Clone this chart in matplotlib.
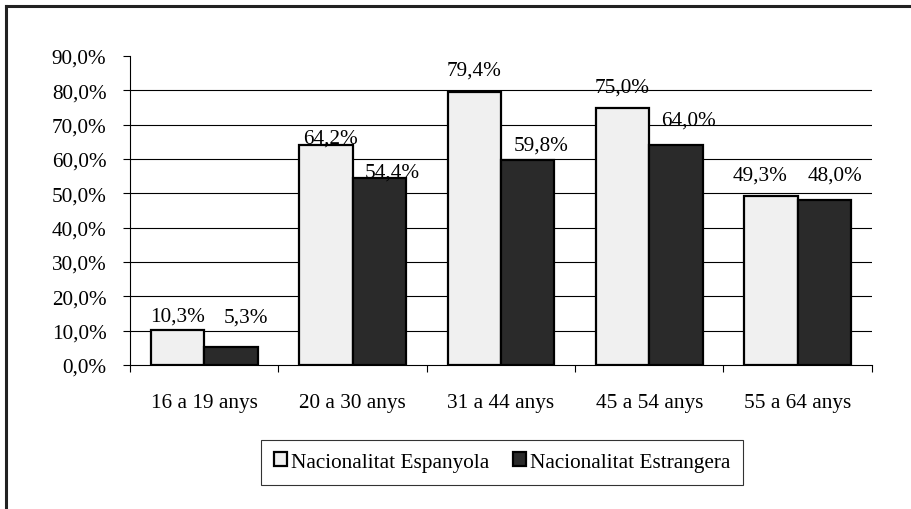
# bar chart: nacionalitat per grup d'edat

import matplotlib
matplotlib.use('Agg')
import matplotlib.pyplot as plt
import numpy as np
from matplotlib.lines import Line2D

grups = ['16 a 19 anys', '20 a 30 anys', '31 a 44 anys', '45 a 54 anys', '55 a 64 anys']
espanyola = [10.3, 64.2, 79.4, 75.0, 49.3]
estrangera = [5.3, 54.4, 59.8, 64.0, 48.0]
series_names = ['Nacionalitat Espanyola', 'Nacionalitat Estrangera']
yticks = [0, 10, 20, 30, 40, 50, 60, 70, 80, 90]

# label nudges (points), as placed by hand in the original
esp_dx = [0, 3, 0, 0, -8]
esp_dy = [6.5, 1.5, 13, 11.5, 12]
est_dx = [11, 9, 10, 9, 8]
est_dy = [18, 1.5, 7, 15, 15]

plt.rcParams['font.family'] = ['Liberation Serif', 'DejaVu Serif']
fs = 15.3

fig = plt.figure(figsize=(9.11, 5.10), dpi=100)
ax = fig.add_axes([0.1427, 0.2824, 0.8143, 0.6058])

x = np.arange(len(grups))
w = 0.36
b1 = ax.bar(x - w / 2, espanyola, w, color='#f0f0f0', edgecolor='black', linewidth=1.6,
            label=series_names[0], zorder=3)
b2 = ax.bar(x + w / 2, estrangera, w, color='#2a2a2a', edgecolor='black', linewidth=1.6,
            label=series_names[1], zorder=3)

def fmt(v):
    return f'{v:.1f}%'.replace('.', ',')

for rect, v, dx, dy in zip(b1, espanyola, esp_dx, esp_dy):
    ax.annotate(fmt(v), (rect.get_x() + rect.get_width() / 2, v), xytext=(dx, dy),
                textcoords='offset points', ha='center', va='baseline', fontsize=fs, zorder=4)
for rect, v, dx, dy in zip(b2, estrangera, est_dx, est_dy):
    ax.annotate(fmt(v), (rect.get_x() + rect.get_width() / 2, v), xytext=(dx, dy),
                textcoords='offset points', ha='center', va='baseline', fontsize=fs, zorder=4)

ax.set_xlim(-0.5, len(grups) - 0.5)
ax.set_ylim(0, 90)
ax.set_yticks(yticks)
ax.set_yticklabels([f'{t},0%' for t in yticks], fontsize=fs)
for t in yticks[1:-1]:
    ax.axhline(t, color='black', linewidth=0.8, zorder=1)

ax.set_xticks(x)
ax.set_xticklabels(grups, fontsize=fs)
ax.set_xticks(np.arange(len(grups) + 1) - 0.5, minor=True)
ax.tick_params(axis='x', which='major', length=0, pad=20)
ax.tick_params(axis='x', which='minor', length=5, width=0.8, direction='out')
ax.tick_params(axis='y', length=5, width=0.8, direction='out', pad=12)

for s in ['top', 'right']:
    ax.spines[s].set_visible(False)
for s in ['left', 'bottom']:
    ax.spines[s].set_linewidth(0.8)
    ax.spines[s].set_color('black')

leg = fig.legend(handles=[b1, b2], labels=series_names, loc='center',
                 bbox_to_anchor=(0.551, 0.092), ncol=2, fontsize=fs, frameon=True,
                 fancybox=False, edgecolor='black', handlelength=0.62, handleheight=0.62,
                 handletextpad=0.2, columnspacing=1.1, borderpad=0.6)
leg.get_frame().set_linewidth(0.8)

# outer frame (only top and left survive in the original crop)
fig.add_artist(Line2D([0.0066, 1.0], [0.9863, 0.9863], color='#222222', linewidth=2.2,
                      transform=fig.transFigure))
fig.add_artist(Line2D([0.0066, 0.0066], [0.0, 0.9863], color='#222222', linewidth=2.2,
                      transform=fig.transFigure))

fig.savefig('out.png', dpi=100)
